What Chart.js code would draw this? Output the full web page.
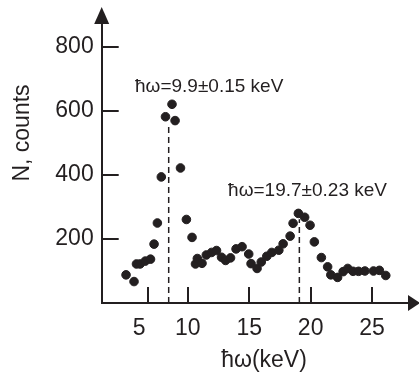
<!DOCTYPE html>
<html>
<head>
<meta charset="utf-8">
<script src="https://cdn.jsdelivr.net/npm/chart.js@4"></script>
<style>
  body { margin: 0; background: #fff; }
  #wrap { width: 419px; height: 376px; }
</style>
</head>
<body>
<div id="wrap"><canvas id="spectrum" width="419" height="376"></canvas></div>
<script>
// photon energy (keV) and counts
const energy = [4.98, 5.63, 5.83, 6.12, 6.55, 6.97, 7.26, 7.53, 7.85, 8.19,
                8.72, 8.97, 9.41, 9.89, 10.35, 10.63, 10.78, 11.16, 11.51, 11.94,
                12.34, 12.75, 13.08, 13.48, 13.93, 14.42, 14.96, 15.15, 15.64, 15.98,
                16.43, 16.84, 17.41, 17.76, 18.33, 18.57, 19.00, 19.51, 19.95, 20.30,
                20.87, 21.38, 21.64, 22.19, 22.64, 23.02, 23.45, 23.90, 24.41, 25.11,
                25.59, 26.11];
const counts = [88, 67, 122, 122, 131, 137, 184, 250, 394, 582,
                621, 570, 422, 261, 205, 122, 139, 124, 150, 158,
                164, 143, 133, 141, 169, 176, 153, 123, 108, 128,
                146, 158, 165, 185, 209, 249, 280, 268, 243, 191,
                142, 113, 88, 80, 98, 108, 99, 99, 100, 100,
                102, 86];

// dashed markers under the two peaks
const peakLineX = [8.45, 19.08];
const peakLineTop = [562, 262];
const peakText = ['ħω=9.9±0.15 keV', 'ħω=19.7±0.23 keV'];
const peakTextX = [5.71, 13.28];
const peakTextY = [675, 351];

// ticks (the "5" sits off its linear place in the original)
const xTickMarks = [6.8, 10, 15, 20, 25];
const xTickLabelAt = [6.05, 10, 15, 20, 25];
const xTickLabels = ['5', '10', '15', '20', '25'];
const yTicks = [200, 400, 600, 800];

const ink = '#231f20';
const font = "'Liberation Sans', Arial, sans-serif";

// arrows, inward ticks, axis titles and peak captions
const decorations = {
    id: 'decorations',
    afterDraw(chart) {
        const c = chart.ctx;
        const xs = chart.scales.x, ys = chart.scales.y;
        const a = chart.chartArea;
        c.save();
        c.strokeStyle = ink;
        c.fillStyle = ink;
        c.lineWidth = 2;

        // inward tick marks
        xTickMarks.forEach(v => {
            const px = Math.round(xs.getPixelForValue(v));
            c.beginPath(); c.moveTo(px, a.bottom); c.lineTo(px, a.bottom - 16); c.stroke();
        });
        yTicks.forEach(v => {
            const py = Math.round(ys.getPixelForValue(v));
            c.beginPath(); c.moveTo(a.left, py); c.lineTo(a.left + 17, py); c.stroke();
        });

        // arrow heads
        c.beginPath();
        c.moveTo(a.left - 7.5, a.top + 1);
        c.lineTo(a.left + 7.5, a.top + 1);
        c.lineTo(a.left, a.top - 16);
        c.closePath(); c.fill();
        c.beginPath();
        c.moveTo(a.right - 1, a.bottom - 8);
        c.lineTo(a.right - 1, a.bottom + 8);
        c.lineTo(a.right + 11, a.bottom);
        c.closePath(); c.fill();

        // peak captions
        c.font = '19px ' + font;
        c.textAlign = 'left';
        c.textBaseline = 'middle';
        peakText.forEach((t, i) => {
            c.fillText(t, xs.getPixelForValue(peakTextX[i]), ys.getPixelForValue(peakTextY[i]));
        });

        // axis titles
        c.font = '23px ' + font;
        c.textAlign = 'center';
        c.fillText('ħω(keV)', 264, 361);
        c.translate(23, 133);
        c.rotate(-Math.PI / 2);
        c.fillText('N, counts', 0, 0);
        c.restore();
    }
};

function createChart() {
    const ctx = document.getElementById('spectrum').getContext('2d');
    const points = energy.map((e, i) => ({ x: e, y: counts[i] }));
    const markers = peakLineX.map((x, i) => ({
        type: 'line',
        data: [{ x: x, y: 0 }, { x: x, y: peakLineTop[i] }],
        borderColor: ink,
        borderWidth: 1.5,
        borderDash: [6, 4],
        pointRadius: 0
    }));

    new Chart(ctx, {
        type: 'scatter',
        data: {
            datasets: [{
                data: points,
                backgroundColor: ink,
                borderColor: ink,
                pointRadius: 4.3,
                pointHoverRadius: 4.3
            }, ...markers]
        },
        options: {
            responsive: false,
            animation: false,
            events: [],
            layout: { padding: { left: 0, right: 10, top: 23, bottom: 0 } },
            plugins: { legend: { display: false }, tooltip: { enabled: false } },
            scales: {
                x: {
                    type: 'linear',
                    min: 3,
                    max: 28,
                    afterFit: s => { s.height = 73; },
                    afterBuildTicks: s => { s.ticks = xTickLabelAt.map(v => ({ value: v })); },
                    grid: { display: false, drawTicks: false },
                    border: { display: true, color: ink, width: 2 },
                    ticks: {
                        padding: 12,
                        color: ink,
                        font: { family: font, size: 23 },
                        maxRotation: 0,
                        autoSkip: false,
                        callback: (v, i) => xTickLabels[i]
                    }
                },
                y: {
                    min: 0,
                    max: 875,
                    afterFit: s => { s.width = 101.7; },
                    afterBuildTicks: s => { s.ticks = yTicks.map(v => ({ value: v })); },
                    grid: { display: false, drawTicks: false },
                    border: { display: true, color: ink, width: 2 },
                    ticks: {
                        padding: 8,
                        color: ink,
                        font: { family: font, size: 23 },
                        autoSkip: false
                    }
                }
            }
        },
        plugins: [decorations]
    });
}

createChart();
</script>
</body>
</html>
